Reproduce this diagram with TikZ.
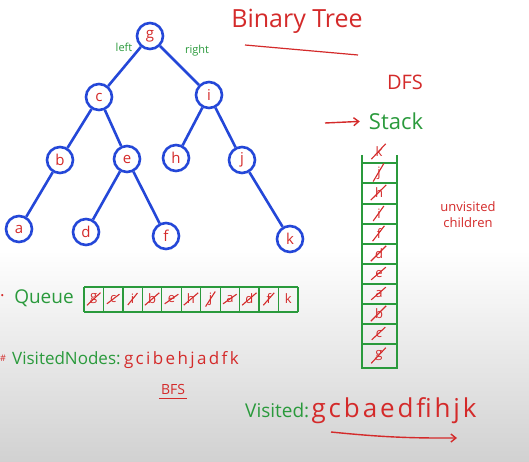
\documentclass[tikz,border=0pt]{standalone}
\usepackage{fontspec}
\setmainfont{Open Sans}
\usetikzlibrary{arrows.meta}
\definecolor{tblue}{HTML}{2447D8}
\definecolor{tred}{HTML}{D42A2A}
\definecolor{tgreen}{HTML}{2A9A3C}
\tikzset{
  tnode/.style={circle,draw=tblue,line width=2.6pt,minimum size=26pt,inner sep=0pt,text=tred,font=\fontsize{15}{15}\selectfont},
  tedge/.style={draw=tblue,line width=2.6pt},
  redtxt/.style={text=tred,inner sep=0pt},
  greentxt/.style={text=tgreen,inner sep=0pt},
  cellline/.style={draw=tgreen,line width=1.3pt},
  cellletter/.style={text=tred,inner sep=1pt,font=\fontsize{13}{13}\selectfont},
  xout/.style={draw=tred,line width=1.1pt},
  redarrow/.style={draw=tred,line width=1.4pt,-{Straight Barb[length=5pt,width=8pt]}}
}
\begin{document}
\begin{tikzpicture}[x=1pt,y=-1pt]
\useasboundingbox (0,0) rectangle (529,462);
\fill[white] (0,0) rectangle (529,462);
\shade[top color=white,bottom color=black!18] (0,250) rectangle (529,462);
% tree
\node[tnode] (g) at (150,36) {g};
\node[tnode] (c) at (99,97) {c};
\node[tnode] (i) at (209,95) {i};
\node[tnode] (b) at (60,160) {b};
\node[tnode] (e) at (127,159) {e};
\node[tnode] (h) at (176,158) {h};
\node[tnode] (j) at (242,160) {j};
\node[tnode] (a) at (19,229) {a};
\node[tnode] (d) at (86,232) {d};
\node[tnode] (f) at (166,236) {f};
\node[tnode] (k) at (290,239) {k};
\draw[tedge] (g) -- (c);
\draw[tedge] (g) -- (i);
\draw[tedge] (c) -- (b);
\draw[tedge] (c) -- (e);
\draw[tedge] (i) -- (h);
\draw[tedge] (i) -- (j);
\draw[tedge] (b) -- (a);
\draw[tedge] (e) -- (d);
\draw[tedge] (e) -- (f);
\draw[tedge] (j) -- (k);
\node[greentxt,font=\fontsize{11}{11}\selectfont] (lefttxt) at (124,47) {left};
\node[greentxt,font=\fontsize{11}{11}\selectfont] (righttxt) at (197,51) {right};
% title
\node[redtxt,font=\fontsize{25}{25}\selectfont] (title) at (297,21) {Binary Tree};
\coordinate (ul1) at (245,45);
\coordinate (ul2) at (358,55);
\draw[tred,line width=1.2pt] (ul1) -- (ul2);
% DFS and stack
\node[redtxt,font=\fontsize{20}{20}\selectfont] (dfs) at (405,82) {DFS};
\node[greentxt,font=\fontsize{22}{22}\selectfont] (stack) at (396,121) {Stack};
\coordinate (arrA) at (325,123);
\draw[redarrow,shorten >=9pt] (arrA) -- (stack.west);
\draw[cellline] (362,155) -- (362,368) -- (397,368) -- (397,155);
\foreach \yy in {163,183,204,224,244,264,284,304,324,344}
  \draw[cellline] (362,\yy) -- (397,\yy);
\foreach \l/\yy [count=\n] in {k/152,j/173,h/193,i/214,f/234,d/254,e/274,a/294,b/314,c/334,g/356} {
  \node[cellletter] (s\n) at (379,\yy) {\l};
  \draw[xout] ([xshift=-3pt,yshift=-1pt]s\n.south west) -- ([xshift=2pt,yshift=2pt]s\n.north east);
}
\node[redtxt,font=\fontsize{13}{13}\selectfont,align=center] (unv) at (468,215) {unvisited\\[3pt]children};
% queue
\node[greentxt,font=\fontsize{19}{19}\selectfont] (queue) at (44,298) {Queue};
\node[redtxt,font=\fontsize{17}{17}\selectfont,anchor=west] (dot) at (0,296) {.};
\foreach \n in {0,...,11}
  \draw[cellline] ({84+\n*19.45},287) -- ({84+\n*19.45},312);
\draw[cellline] (84,287) -- (298,287);
\draw[cellline] (84,312) -- (298,312);
\foreach \l [count=\n] in {g,c,i,b,e,h,j,a,d,f,k} {
  \node[cellletter] (q\n) at ({84+(\n-0.5)*19.45},299) {\l};
}
\foreach \n in {1,...,10}
  \draw[xout] ([xshift=-2pt]q\n.south west) -- ([xshift=2pt]q\n.north east);
% visited nodes BFS
\node[redtxt,font=\fontsize{9}{9}\selectfont,anchor=west] (hash) at (0,358) {\#};
\node[greentxt,font=\fontsize{17}{17}\selectfont,anchor=west] (vn) at (12,358) {VisitedNodes:};
\node[redtxt,font=\fontsize{17}{17}\selectfont\addfontfeature{LetterSpace=14},anchor=base west] (vnl) at ([xshift=3pt]vn.base east) {gcibehjadfk};
\node[redtxt,font=\fontsize{14}{14}\selectfont] (bfs) at (173,389) {BFS};
\draw[tred,line width=1.1pt] ([xshift=-2pt,yshift=-4pt]bfs.south west) -- ([xshift=2pt,yshift=-4pt]bfs.south east);
% visited DFS
\node[greentxt,font=\fontsize{19}{19}\selectfont,anchor=west] (vis) at (245,410) {Visited:};
\node[redtxt,font=\fontsize{26}{26}\selectfont\addfontfeature{LetterSpace=11},anchor=base west] (visl) at ([xshift=2pt]vis.base east) {gcbaedfihjk};
\coordinate (va) at (331,432);
\coordinate (vb) at (457,438);
\draw[redarrow] (va) to[bend right=3] (vb);
\end{tikzpicture}
\end{document}
